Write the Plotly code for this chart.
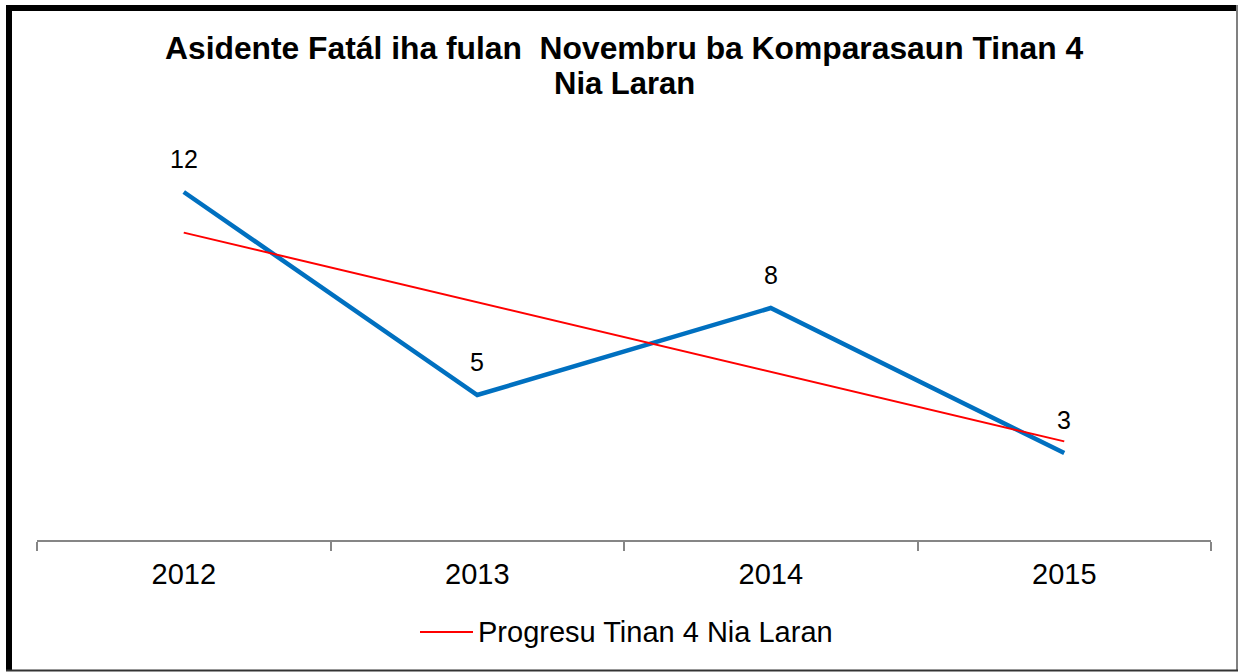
import plotly.graph_objects as go

years = ["2012", "2013", "2014", "2015"]
fatal_accidents = [12, 5, 8, 3]
trend_values = [10.6, 8.2, 5.8, 3.4]
title_lines = ["Asidente Fatál iha fulan  Novembru ba Komparasaun Tinan 4", "Nia Laran"]
legend_label = "Progresu Tinan 4 Nia Laran"

FONT = "Liberation Sans, Arial, sans-serif"
W, H = 1238, 672
ML, MR, MT, MB = 37, 27, 134, 132
PW, PH = W - ML - MR, H - MT - MB


def px(x):
    return (x - ML) / PW


def py(y):
    return (H - MB - y) / PH


fig = go.Figure()
fig.add_trace(go.Scatter(
    x=years, y=fatal_accidents, mode="lines",
    line=dict(color="#0070C0", width=4.5),
    showlegend=False, hoverinfo="x+y",
))
fig.add_trace(go.Scatter(
    x=years, y=trend_values, mode="lines",
    line=dict(color="#FF0000", width=2),
    name=legend_label, showlegend=False,
))

annotations = []
for i, v in enumerate(fatal_accidents):
    annotations.append(dict(
        x=i, y=v, xref="x", yref="y", text=str(v), showarrow=False,
        yshift=33, font=dict(family=FONT, size=25, color="#000000"),
    ))

# title (two centred lines)
for line, yc, fs in zip(title_lines, [48, 83], [31.8, 31]):
    annotations.append(dict(
        x=px(624), y=py(yc), xref="paper", yref="paper", text="<b>%s</b>" % line,
        showarrow=False, xanchor="center", yanchor="middle",
        font=dict(family=FONT, size=fs, color="#000000"),
    ))

# legend (manual, to match the long line sample)
annotations.append(dict(
    x=px(476), y=py(632), xref="paper", yref="paper", text=legend_label,
    showarrow=False, xanchor="left", yanchor="middle",
    font=dict(family=FONT, size=29, color="#000000"),
))

shapes = [
    dict(type="line", xref="paper", yref="paper", x0=px(420), x1=px(473),
         y0=py(632), y1=py(632), line=dict(color="#FF0000", width=2)),
    # frame
    dict(type="line", xref="paper", yref="paper", x0=px(9), x1=px(9),
         y0=py(5), y1=py(671), line=dict(color="#000000", width=6)),
    dict(type="line", xref="paper", yref="paper", x0=px(6), x1=px(1237),
         y0=py(8), y1=py(8), line=dict(color="#000000", width=6)),
    dict(type="line", xref="paper", yref="paper", x0=px(1237), x1=px(1237),
         y0=py(5), y1=py(671), line=dict(color="#808080", width=2)),
    dict(type="line", xref="paper", yref="paper", x0=px(6), x1=px(1238),
         y0=py(670.5), y1=py(670.5), line=dict(color="#333333", width=2)),
]

fig.update_layout(
    width=W, height=H,
    margin=dict(l=ML, r=MR, t=MT, b=MB),
    paper_bgcolor="#FFFFFF", plot_bgcolor="#FFFFFF",
    xaxis=dict(
        type="category", categoryorder="array", categoryarray=years,
        range=[-0.5, 3.5], tickson="boundaries", ticks="outside",
        ticklen=9, tickcolor="#868686", tickwidth=1.5,
        showline=True, linecolor="#868686", linewidth=1.5,
        showgrid=False, zeroline=False, ticklabelstandoff=7,
        tickfont=dict(family=FONT, size=29, color="#000000"),
    ),
    yaxis=dict(range=[0, 14], visible=False, showgrid=False, zeroline=False),
    annotations=annotations,
    shapes=shapes,
    showlegend=False,
)

fig.write_html(
    "out.html",
    config={"displayModeBar": False},
    post_script="document.body.style.margin='0';document.body.style.overflow='hidden';",
)
